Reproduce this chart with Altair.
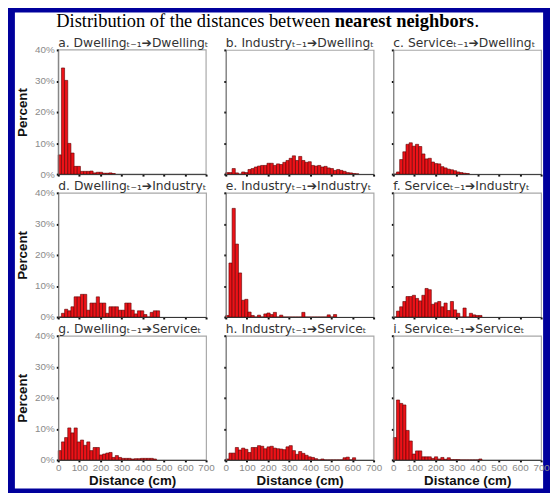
import altair as alt
import pandas as pd

BIN_WIDTH = 15  # cm per histogram bin

title_normal = "Distribution of the distances between"
title_bold = "nearest neighbors"
title_end = "."

panel_titles = [
    "a. Dwellingₜ₋₁➔Dwellingₜ",
    "b. Industryₜ₋₁➔Dwellingₜ",
    "c. Serviceₜ₋₁➔Dwellingₜ",
    "d. Dwellingₜ₋₁➔Industryₜ",
    "e. Industryₜ₋₁➔Industryₜ",
    "f. Serviceₜ₋₁➔Industryₜ",
    "g. Dwellingₜ₋₁➔Serviceₜ",
    "h. Industryₜ₋₁➔Serviceₜ",
    "i. Serviceₜ₋₁➔Serviceₜ",
]

# percent of pairs per 15 cm bin, starting at 0 cm
pct_a = [6.2, 34.2, 30.2, 9.9, 6.8, 2.5, 2.5, 0.9, 0.9, 0.9, 1.0, 0.4, 0.6, 0.6, 0.3, 0.3, 0.4, 0.2]
pct_b = [0.5, 0.5, 1.8, 0.4, 0, 0.7, 0.5, 1.5, 1.8, 2.3, 2.6, 2.8, 2.8, 3.5, 3.5, 2.8, 3.3, 3.1, 3.8, 4.4,
         5.1, 5.9, 4.4, 5.7, 4.4, 3.8, 4.0, 2.8, 2.6, 2.8, 2.3, 2.5, 2.0, 1.8, 1.2, 1.5, 1.2, 0.9, 0.5, 0.4,
         0.2, 0.1]
pct_c = [0, 0.7, 4.7, 7.2, 9.6, 10.1, 9.0, 9.6, 8.9, 6.5, 4.9, 5.1, 3.9, 3.4, 3.3, 2.4, 2.0, 1.6, 1.4, 1.1,
         0.7, 0.5, 0.3, 0.2]
pct_d = [0, 1.2, 2.5, 2.0, 3.3, 6.5, 6.5, 7.3, 7.3, 2.2, 4.5, 4.5, 6.5, 4.5, 4.5, 1.2, 3.3, 3.3, 3.3, 2.2,
         2.2, 4.5, 4.5, 2.2, 1.0, 2.0, 2.0, 0.8, 0, 1.5, 2.0, 2.0]
pct_e = [0.5, 17.4, 35.0, 23.5, 14.2, 5.4, 5.7, 1.6, 0.5, 0, 0.6, 0, 1.0, 1.3, 0.8, 1.5, 0, 0.6, 0, 0,
         0, 0, 0, 0, 1.5, 0, 0, 0, 0, 0, 0, 0, 0.7, 0, 0.8]
pct_f = [0, 1.9, 3.3, 5.0, 6.6, 6.6, 7.0, 6.0, 5.2, 7.0, 9.2, 8.8, 4.1, 4.6, 5.0, 3.3, 4.5, 2.1, 5.0, 2.3,
         1.2, 0, 2.9, 0, 1.2, 0.7, 0.5, 0.5]
pct_g = [3.0, 5.8, 7.2, 10.3, 8.7, 10.3, 5.8, 6.4, 4.7, 5.8, 3.0, 4.0, 4.0, 1.6, 1.9, 2.2, 2.4, 0.8, 1.4, 0.8,
         0.5, 0.5, 0.5, 0.3, 0.4, 0.4, 0.5, 0.5, 0.5, 0.5, 0.3]
pct_h = [0.3, 2.2, 2.2, 4.0, 3.2, 3.8, 3.4, 2.4, 4.0, 4.0, 4.6, 4.4, 3.6, 4.2, 4.4, 3.8, 3.6, 3.5, 3.3, 4.2,
         4.6, 3.0, 1.8, 2.7, 2.1, 1.5, 1.0, 0.8, 0.4, 0, 0.3, 0, 0, 0, 0, 0, 0, 0.7, 0.9, 0, 0.7]
pct_i = [7.2, 19.3, 18.2, 17.7, 9.5, 6.1, 1.9, 2.9, 2.9, 1.0, 1.0, 1.0, 0.5, 1.0, 0.3, 0.8, 0.2, 0.7, 0.1, 0.1,
         0.1, 0, 0, 0, 0, 0, 0, 0.3]

x_ticks = [0, 100, 200, 300, 400, 500, 600, 700]
y_ticks = [0, 0.1, 0.2, 0.3, 0.4]

all_pcts = [pct_a, pct_b, pct_c, pct_d, pct_e, pct_f, pct_g, pct_h, pct_i]

PANEL_W = 150
PANEL_H = 126
BAR_FILL = "#ec1218"
BAR_STROKE = "#5a0000"
FRAME = "#a8a8a8"
TITLE_SIZE = 18.7
one_row = pd.DataFrame({"k": [0]})


def make_panel(idx):
    vals = all_pcts[idx]
    df = pd.DataFrame({
        "start": [k * BIN_WIDTH for k in range(len(vals))],
        "end": [(k + 1) * BIN_WIDTH for k in range(len(vals))],
        "pct": [v / 100 for v in vals],
        "base": [0.0] * len(vals),
    })
    left = idx % 3 == 0
    bottom = idx >= 6
    x_axis = alt.Axis(values=x_ticks, labels=bottom, title="Distance (cm)" if bottom else None,
                      labelPadding=1, titlePadding=1, labelOverlap=False, labelFlush=False, zindex=1,
                      domainColor="#333333")
    y_axis = alt.Axis(values=y_ticks, format=".0%", labels=left, title="Percent" if left else None,
                      labelPadding=2, titlePadding=5, labelOverlap=False, labelFlush=False, zindex=1,
                      domainColor="#777777")
    bars = alt.Chart(df).mark_rect(color=BAR_FILL, stroke=BAR_STROKE, strokeWidth=0.6).encode(
        x=alt.X("start:Q", scale=alt.Scale(domain=[0, 700], nice=False, zero=True), axis=x_axis),
        x2="end:Q",
        y=alt.Y("pct:Q", scale=alt.Scale(domain=[0, 0.4], nice=False), axis=y_axis),
        y2="base:Q",
    )
    layers = []
    if idx == 0:
        # white slide area behind the whole figure, and this panel's frame on top of it
        layers.append(
            alt.Chart(one_row).mark_rect(color="white").encode(
                x=alt.value(-44), x2=alt.value(492), y=alt.value(-38), y2=alt.value(445)
            )
        )
        layers.append(
            alt.Chart(one_row).mark_rect(fillOpacity=0, stroke=FRAME, strokeWidth=1.2).encode(
                x=alt.value(0), x2=alt.value(PANEL_W), y=alt.value(0), y2=alt.value(PANEL_H)
            )
        )
    layers.append(bars)
    layers.append(
        alt.Chart(pd.DataFrame({"t": [panel_titles[idx]]})).mark_text(
            align="left", baseline="alphabetic", font="DejaVu Sans", fontSize=12.5, color="#333333"
        ).encode(text="t:N", x=alt.value(0), y=alt.value(-3))
    )
    if idx == 1:
        tdf = pd.DataFrame({"a": [title_normal], "b": [title_bold], "c": [title_end]})
        base = alt.Chart(tdf)
        layers.append(base.mark_text(align="right", baseline="alphabetic", font="Liberation Serif",
                                     fontSize=TITLE_SIZE, color="black").encode(
            text="a:N", x=alt.value(106), y=alt.value(-23)))
        layers.append(base.mark_text(align="left", baseline="alphabetic", font="Liberation Serif",
                                     fontSize=TITLE_SIZE, fontWeight="bold", color="black").encode(
            text="b:N", x=alt.value(110.5), y=alt.value(-23)))
        layers.append(base.mark_text(align="left", baseline="alphabetic", font="Liberation Serif",
                                     fontSize=TITLE_SIZE, color="black").encode(
            text="c:N", x=alt.value(252.5), y=alt.value(-23)))
    return alt.layer(*layers).properties(width=PANEL_W, height=PANEL_H)


panels = [make_panel(i) for i in range(9)]

chart = alt.concat(*panels, columns=3, spacing={"row": 19, "column": 20}, bounds="flush").properties(
    padding={"left": 6, "top": 0, "right": 0, "bottom": 0},
    background="#00009c",
).configure_view(
    stroke=FRAME, strokeWidth=1.2
).configure_axis(
    grid=False,
    domainWidth=1,
    tickColor="#111111", tickSize=2, tickWidth=2,
    labelColor="#8a8a8a", labelFont="Liberation Sans", labelFontSize=10,
    titleFont="Liberation Sans", titleFontWeight="bold", titleFontSize=13.5, titleColor="#111111",
)

chart.save("out.html", embed_options={"renderer": "svg", "actions": False})
